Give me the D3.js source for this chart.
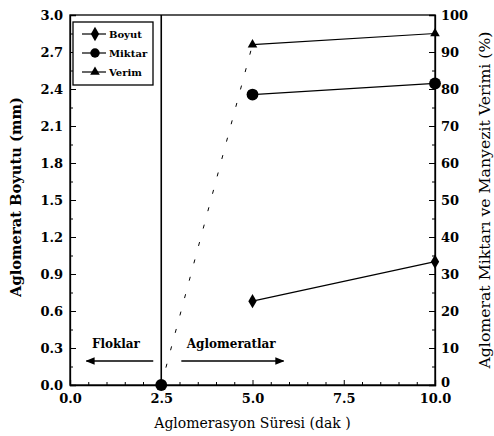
<!DOCTYPE html>
<html>
<head>
<meta charset="utf-8">
<script src="https://cdn.jsdelivr.net/npm/d3@7"></script>
<style>
  body { margin: 0; background: #fff; }
</style>
</head>
<body>
<div id="chart"></div>
<script>
// data
const times = [2.5, 5.0, 10.0];
const boyut = [0, 0.68, 1.0];      // mm, left axis
const miktar = [0, 78.5, 81.5];    // %, right axis
const verim = [0, 92, 95];         // %, right axis
const xTicks = [0, 2.5, 5, 7.5, 10];
const leftTicks = [0, 0.3, 0.6, 0.9, 1.2, 1.5, 1.8, 2.1, 2.4, 2.7, 3.0];
const rightTicks = [0, 10, 20, 30, 40, 50, 60, 70, 80, 90, 100];
const legendNames = ["Boyut", "Miktar", "Verim"];

const width = 494, height = 436;
const margin = { top: 15, right: 59, bottom: 51, left: 70 };
const serif = "'DejaVu Serif', 'Liberation Serif', serif";

const svg = d3.select("#chart").append("svg")
  .attr("width", width)
  .attr("height", height)
  .attr("font-family", serif);

const x = d3.scaleLinear().domain([0, 10]).range([margin.left, width - margin.right]);
const yL = d3.scaleLinear().domain([0, 3]).range([height - margin.bottom, margin.top]);
const yR = d3.scaleLinear().domain([0, 100]).range([height - margin.bottom, margin.top]);

// frame
svg.append("rect")
  .attr("x", margin.left).attr("y", margin.top)
  .attr("width", x(10) - x(0)).attr("height", yL(0) - yL(3))
  .attr("fill", "none").attr("stroke", "#000").attr("stroke-width", 1.3);

// bottom axis, ticks inward
const xAxis = svg.append("g")
  .attr("transform", `translate(0,${yL(0)})`)
  .call(d3.axisBottom(x).tickValues(xTicks).tickSize(-5).tickPadding(9).tickFormat(d3.format(".1f")));
svg.append("g")
  .attr("transform", `translate(0,${yL(0)})`)
  .call(d3.axisBottom(x).tickValues(d3.range(0.5, 10, 0.5).filter(v => v % 2.5 !== 0)).tickSize(-3).tickFormat(""))
  .call(g => g.select(".domain").remove());

// left axis
const leftAxis = svg.append("g")
  .attr("transform", `translate(${x(0)},0)`)
  .call(d3.axisLeft(yL).tickValues(leftTicks).tickSize(-6).tickPadding(7).tickFormat(d3.format(".1f")));
svg.append("g")
  .attr("transform", `translate(${x(0)},0)`)
  .call(d3.axisLeft(yL).tickValues(d3.range(0.15, 3, 0.3)).tickSize(-3).tickFormat(""))
  .call(g => g.select(".domain").remove());

// right axis
const rightAxis = svg.append("g")
  .attr("transform", `translate(${x(10)},0)`)
  .call(d3.axisRight(yR).tickValues(rightTicks).tickSize(-6).tickPadding(6).tickFormat(d3.format("d")));
svg.append("g")
  .attr("transform", `translate(${x(10)},0)`)
  .call(d3.axisRight(yR).tickValues(d3.range(5, 100, 10)).tickSize(-3).tickFormat(""))
  .call(g => g.select(".domain").remove());

svg.selectAll("g").attr("font-family", null);
svg.selectAll(".domain").attr("stroke-width", 1.3);
[xAxis, leftAxis, rightAxis].forEach(g => g.selectAll("text")
  .attr("font-weight", "bold")
  .attr("font-size", 13)
  .attr("fill", "#000"));
rightAxis.selectAll("text").filter(d => d === 0).attr("dy", "0.1em");

// vertical divider at 2.5 min
svg.append("line")
  .attr("x1", x(2.5)).attr("x2", x(2.5))
  .attr("y1", yL(3)).attr("y2", yL(0))
  .attr("stroke", "#000").attr("stroke-width", 1.6);

// lines: dashed rise from 2.5 to 5, solid after
const lineR = d3.line().x(d => x(d[0])).y(d => yR(d[1]));
const lineL = d3.line().x(d => x(d[0])).y(d => yL(d[1]));

svg.append("path")
  .attr("d", lineR([[times[0], verim[0]], [times[1], verim[1]]]))
  .attr("fill", "none").attr("stroke", "#000").attr("stroke-width", 1)
  .attr("stroke-dasharray", "4,14");

svg.append("path")
  .attr("d", lineL(times.slice(1).map((t, i) => [t, boyut[i + 1]])))
  .attr("fill", "none").attr("stroke", "#000").attr("stroke-width", 1.2);
svg.append("path")
  .attr("d", lineR(times.slice(1).map((t, i) => [t, miktar[i + 1]])))
  .attr("fill", "none").attr("stroke", "#000").attr("stroke-width", 1.2);
svg.append("path")
  .attr("d", lineR(times.slice(1).map((t, i) => [t, verim[i + 1]])))
  .attr("fill", "none").attr("stroke", "#000").attr("stroke-width", 1.2);

const symBoyut = d3.symbol().type(d3.symbolDiamond).size(60);
const symMiktar = d3.symbol().type(d3.symbolCircle).size(110);
const symVerim = d3.symbol().type(d3.symbolTriangle).size(40);

svg.append("g").selectAll("path")
  .data(times.slice(1).map((t, i) => [t, boyut[i + 1]]))
  .join("path")
  .attr("transform", d => `translate(${x(d[0])},${yL(d[1])})`)
  .attr("d", symBoyut);
svg.append("g").selectAll("path")
  .data(times.map((t, i) => [t, miktar[i]]))
  .join("path")
  .attr("transform", d => `translate(${x(d[0])},${yR(d[1])})`)
  .attr("d", symMiktar);
svg.append("g").selectAll("path")
  .data(times.slice(1).map((t, i) => [t, verim[i + 1]]))
  .join("path")
  .attr("transform", d => `translate(${x(d[0])},${yR(d[1])})`)
  .attr("d", symVerim);

// legend
const legend = svg.append("g").attr("transform", "translate(73,22)");
legend.append("rect")
  .attr("width", 80).attr("height", 63)
  .attr("fill", "#fff").attr("stroke", "#000").attr("stroke-width", 1.3);
const syms = [symBoyut, d3.symbol().type(d3.symbolCircle).size(70), symVerim];
legendNames.forEach((name, i) => {
  const yy = 12 + i * 19;
  legend.append("line").attr("x1", 9).attr("x2", 33).attr("y1", yy).attr("y2", yy)
    .attr("stroke", "#000").attr("stroke-width", 1.2);
  legend.append("path").attr("transform", `translate(22,${yy})`).attr("d", syms[i]);
  legend.append("text").attr("x", 36).attr("y", yy).attr("dy", "0.35em")
    .attr("font-size", 10).attr("font-weight", "bold").text(name);
});

// region annotations
const annotY = 361;
svg.append("defs").append("marker")
  .attr("id", "arrow").attr("viewBox", "0 0 10 10")
  .attr("refX", 9).attr("refY", 5)
  .attr("markerWidth", 7).attr("markerHeight", 7)
  .attr("orient", "auto-start-reverse")
  .append("path").attr("d", "M0,1 L10,5 L0,9 Z");
svg.append("line")
  .attr("x1", x(2.5) - 8).attr("x2", x(0.45)).attr("y1", annotY).attr("y2", annotY)
  .attr("stroke", "#000").attr("stroke-width", 1.3).attr("marker-end", "url(#arrow)");
svg.append("line")
  .attr("x1", x(3.05)).attr("x2", x(5.85)).attr("y1", annotY).attr("y2", annotY)
  .attr("stroke", "#000").attr("stroke-width", 1.3).attr("marker-end", "url(#arrow)");
svg.append("text").attr("x", x(0.6)).attr("y", 348)
  .attr("font-size", 12).attr("font-weight", "bold").text("Floklar");
svg.append("text").attr("x", x(3.2)).attr("y", 348)
  .attr("font-size", 12).attr("font-weight", "bold").text("Aglomeratlar");

// axis titles
svg.append("text")
  .attr("x", (x(0) + x(10)) / 2).attr("y", 428)
  .attr("text-anchor", "middle").attr("font-size", 14)
  .text("Aglomerasyon Süresi (dak )");
svg.append("text")
  .attr("transform", "translate(21,197) rotate(-90)")
  .attr("text-anchor", "middle").attr("font-size", 14).attr("font-weight", "bold")
  .attr("textLength", 200).attr("lengthAdjust", "spacingAndGlyphs")
  .text("Aglomerat Boyutu (mm)");
svg.append("text")
  .attr("transform", "translate(490,200) rotate(-90)")
  .attr("text-anchor", "middle").attr("font-size", 14)
  .attr("textLength", 337).attr("lengthAdjust", "spacingAndGlyphs")
  .text("Aglomerat Miktarı ve Manyezit Verimi (%)");
</script>
</body>
</html>
